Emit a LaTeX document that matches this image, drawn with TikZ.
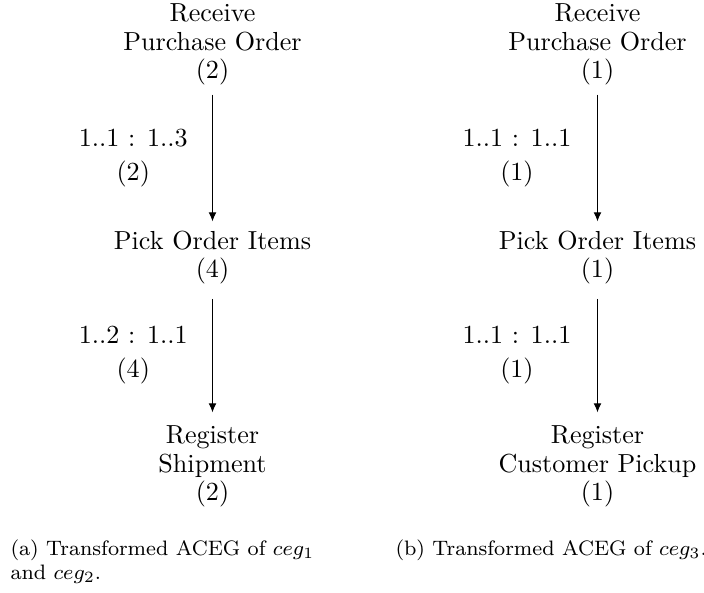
\documentclass[tikz,border=0pt]{standalone}
\usetikzlibrary{arrows.meta}
\begin{document}
\begin{tikzpicture}[x=0.38314pt, y=-0.38314pt,
  task/.style={align=center, font=\fontsize{10}{11}\selectfont},
  card/.style={align=center, font=\fontsize{10}{13}\selectfont},
  flow/.style={-{Latex[length=3.5pt,width=3pt]}, line width=0.4pt},
  captext/.style={align=left, font=\footnotesize, inner sep=0pt, anchor=north west}]
\useasboundingbox (0,0) rectangle (704,593);
% left graph
\node[task] (a1) at (212.5,44.5) {Receive\\Purchase Order\\(2)};
\node[task] (a2) at (212.5,257.5) {Pick Order Items\\(4)};
\node[task] (a3) at (212.5,466.5) {Register\\Shipment\\(2)};
\draw[flow] (a1) -- node[card, left=6pt] (la1) {1..1 : 1..3\\(2)} (a2);
\draw[flow, shorten <=2pt, shorten >=1.5pt] (a2) -- node[card, left=6pt] (la2) {1..2 : 1..1\\(4)} (a3);
% right graph
\node[task] (b1) at (597.5,44.5) {Receive\\Purchase Order\\(1)};
\node[task] (b2) at (597.5,257.5) {Pick Order Items\\(1)};
\node[task] (b3) at (597.5,466.5) {Register\\Customer Pickup\\(1)};
\draw[flow] (b1) -- node[card, left=6.5pt] (lb1) {1..1 : 1..1\\(1)} (b2);
\draw[flow, shorten <=2pt, shorten >=1.5pt] (b2) -- node[card, left=6.5pt] (lb2) {1..1 : 1..1\\(1)} (b3);
% captions
\node[captext] (ca) at (10,539) {(a) Transformed ACEG of $ceg_1$\\and $ceg_2$.};
\node[captext] (cb) at (395,539) {(b) Transformed ACEG of $ceg_3$.};
\end{tikzpicture}
\end{document}
